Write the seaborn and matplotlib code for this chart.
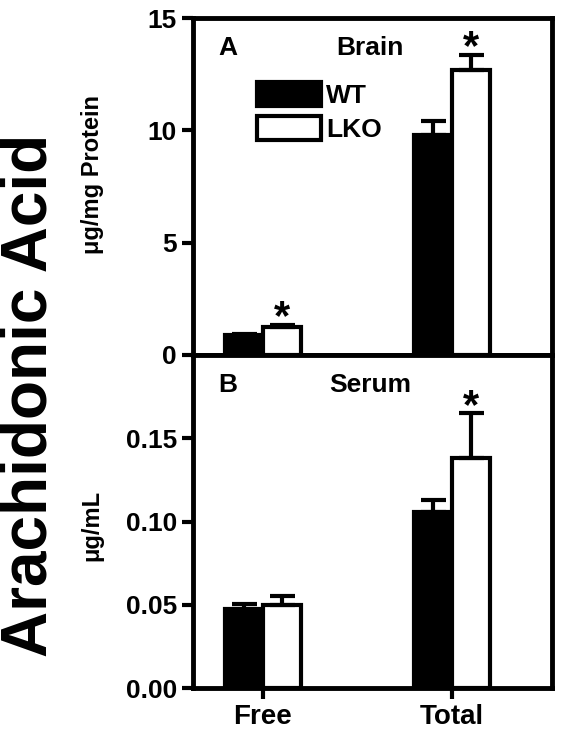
import numpy as np
import pandas as pd
import seaborn as sns
import matplotlib.pyplot as plt
from matplotlib.patches import Patch

categories = ["Free", "Total"]
genotypes = ["WT", "LKO"]
brain_vals = {"WT": [0.9, 9.8], "LKO": [1.25, 12.7]}
brain_err = {"WT": [0.05, 0.6], "LKO": [0.1, 0.65]}
serum_vals = {"WT": [0.0475, 0.106], "LKO": [0.05, 0.138]}
serum_err = {"WT": [0.003, 0.007], "LKO": [0.0055, 0.027]}

sns.set_style("ticks")
plt.rcParams["font.family"] = ["Liberation Sans", "DejaVu Sans"]
plt.rcParams["font.weight"] = "bold"
for k in ["text.color", "axes.labelcolor", "xtick.color", "ytick.color", "axes.edgecolor"]:
    plt.rcParams[k] = "black"

fig = plt.figure(figsize=(5.64, 7.37), dpi=100)
W, H = 564, 737
ax1 = fig.add_axes([193 / W, 1 - 355 / H, 359 / W, 337 / H])
ax2 = fig.add_axes([193 / W, 1 - 688 / H, 359 / W, 333 / H])

width = 0.4
colors = {"WT": "black", "LKO": "white"}


def draw(ax, vals, errs):
    rows = []
    for g in genotypes:
        for c, v in zip(categories, vals[g]):
            rows.append({"cat": c, "geno": g, "val": v})
    df = pd.DataFrame(rows)
    sns.barplot(data=df, x="cat", y="val", hue="geno", hue_order=genotypes,
                palette=colors, width=width, edgecolor="black", linewidth=3,
                errorbar=None, legend=False, ax=ax)
    for i, g in enumerate(genotypes):
        xs = np.arange(len(categories)) + (i - 0.5) * width / 2
        ax.errorbar(xs, vals[g], yerr=[np.zeros(len(categories)), errs[g]],
                    fmt="none", ecolor="black", elinewidth=3, capsize=9, capthick=3)
    for s in ax.spines.values():
        s.set_linewidth(3.5)
    ax.tick_params(width=3, length=8, labelsize=19)
    ax.set_xlim(-0.37, 1.53)
    ax.set_xlabel("")
    ax.set_ylabel("")


draw(ax1, brain_vals, brain_err)
ax1.set_ylim(0, 15)
ax1.set_yticks([0, 5, 10, 15])
ax1.set_xticks([])
ax1.text(0.07, 0.91, "A", transform=ax1.transAxes, fontsize=19, fontweight="bold", va="center")
ax1.text(0.40, 0.91, "Brain", transform=ax1.transAxes, fontsize=19, fontweight="bold", va="center")
for x, v, e in [(0.1, 1.25, 0.1), (1.1, 12.7, 0.65)]:
    ax1.text(x, v + e - 0.6, "*", ha="center", va="bottom", fontsize=30, fontweight="bold")
ax1.legend(handles=[Patch(facecolor="black", edgecolor="black", linewidth=3, label="WT"),
                    Patch(facecolor="white", edgecolor="black", linewidth=3, label="LKO")],
           loc="upper left", bbox_to_anchor=(0.15, 0.84), frameon=False, fontsize=19,
           handlelength=2.4, handleheight=1.0, handletextpad=0.2, labelspacing=0.3,
           borderaxespad=0)

draw(ax2, serum_vals, serum_err)
ax2.set_ylim(0, 0.2)
ax2.set_yticks([0, 0.05, 0.10, 0.15])
ax2.set_yticklabels(["0.00", "0.05", "0.10", "0.15"])
ax2.set_xticks([0, 1])
ax2.set_xticklabels(categories, fontsize=20)
ax2.text(0.07, 0.91, "B", transform=ax2.transAxes, fontsize=19, fontweight="bold", va="center")
ax2.text(0.38, 0.91, "Serum", transform=ax2.transAxes, fontsize=19, fontweight="bold", va="center")
ax2.text(1.1, 0.138 + 0.027 - 0.008, "*", ha="center", va="bottom", fontsize=30, fontweight="bold")

fig.text(30 / W, 1 - 395 / H, "Arachidonic Acid", rotation=90, fontsize=46,
         fontweight="bold", ha="center", va="center")
fig.text(92 / W, 1 - 175 / H, "μg/mg Protein", rotation=90, fontsize=17,
         fontweight="bold", ha="center", va="center")
fig.text(92 / W, 1 - 525 / H, "μg/mL", rotation=90, fontsize=17,
         fontweight="bold", ha="center", va="center")

fig.savefig("out.png", dpi=100)
